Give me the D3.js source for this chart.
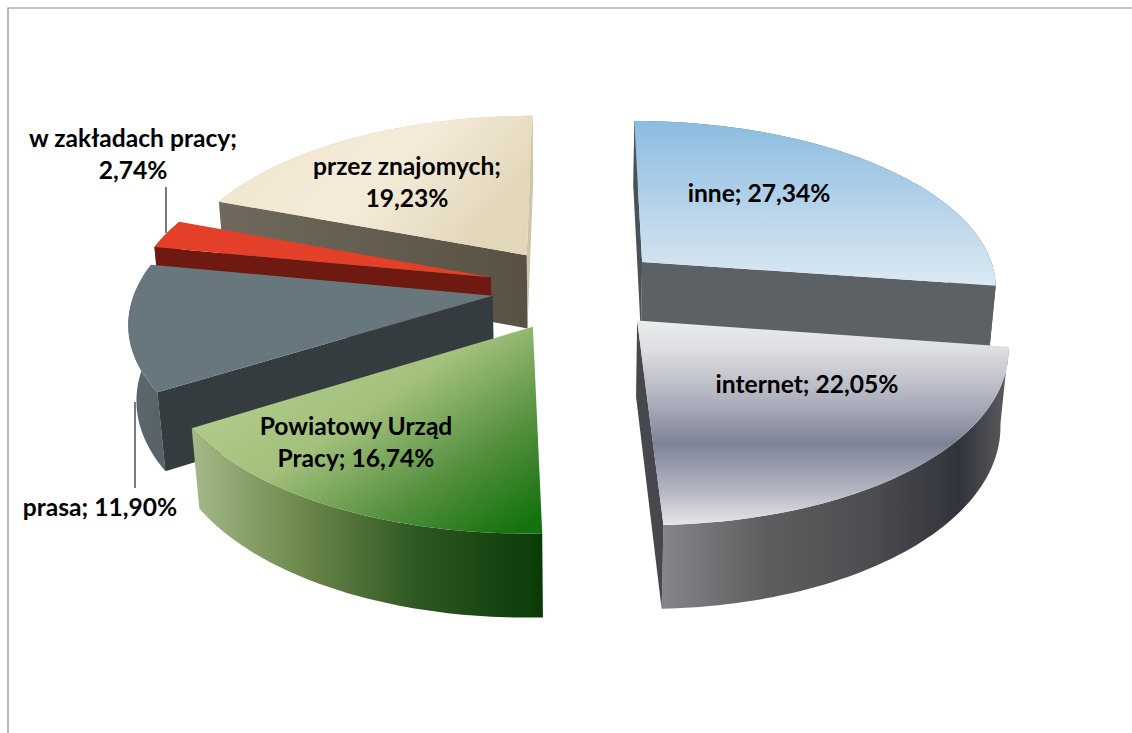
<!DOCTYPE html>
<html>
<head>
<meta charset="utf-8">
<script src="https://cdn.jsdelivr.net/npm/d3@7"></script>
<style>
  html, body { margin: 0; padding: 0; background: #fff; }
  svg { display: block; }
  text { font-family: Lato, sans-serif; font-weight: 700; font-size: 24.6px; fill: #000; text-anchor: middle; }
</style>
</head>
<body>
<div id="chart"></div>
<script>
// values in clockwise order, starting at 12 o'clock
const categories = ['inne', 'internet', 'Powiatowy Urząd Pracy', 'prasa', 'w zakładach pracy', 'przez znajomych'];
const shares = [27.34, 22.05, 16.74, 11.90, 2.74, 19.23];
const labelLines = [
  ['inne; 27,34%'],
  ['internet; 22,05%'],
  ['Powiatowy Urząd', 'Pracy; 16,74%'],
  ['prasa; 11,90%'],
  ['w zakładach pracy;', '2,74%'],
  ['przez znajomych;', '19,23%']
];

const width = 1132;
const height = 733;

// camera fitted to the picture
const explode = [0.25, 0.25, 0.25, 0.236, 0.25, 0.25];
const persp = 0.137;
const zPersp = 0.018;
const thickness = 76;
const xScale = d3.scaleLinear().domain([-1, 1]).range([576 - 357, 576 + 357]);
const yScale = d3.scaleLinear().domain([-1, 1]).range([288.6 + 167, 288.6 - 167]);

const project = (u, v, z) => {
  const s = 1 / (1 + persp * v + zPersp * z);
  return [
    xScale(0) + (xScale(u) - xScale(0)) * s,
    yScale(0) + ((yScale(v) - yScale(0)) + thickness * z) * s
  ];
};

// null wall = faces away from the camera, not drawn
const sliceStyles = [
  { top: 'url(#topInne)', end: '#5c6165', start: '#4a5258', rim: '#5c6165' },
  { top: 'url(#topInternet)', end: '#46484e', start: null, rim: 'url(#rimInternet)' },
  { top: 'url(#topUrzad)', end: null, start: null, rim: 'url(#rimUrzad)' },
  { top: '#67777d', end: null, start: '#343c3f', rim: 'url(#rimPrasa)' },
  { top: '#e43f28', end: null, start: '#6e1a10', rim: '#6e1a10' },
  { top: 'url(#topZnajomi)', end: '#cfc5ab', start: 'url(#wallZnajomi)', rim: '#cfc5ab' }
];

const labelPos = [
  { x: 759, y: 202 },
  { x: 807, y: 393 },
  { x: 356, y: 435 },
  { x: 100, y: 516 },
  { x: 133, y: 147 },
  { x: 407, y: 175 }
];
const lineStep = 32;

const svg = d3.select('#chart')
  .append('svg')
  .attr('width', width)
  .attr('height', height);

const defs = svg.append('defs');
const gradient = (id, x2, y2, stops) => {
  const g = defs.append('linearGradient')
    .attr('id', id)
    .attr('x1', 0).attr('y1', 0)
    .attr('x2', x2).attr('y2', y2);
  stops.forEach(s => g.append('stop').attr('offset', s[0]).attr('stop-color', s[1]));
};

gradient('topInne', 0, 1, [[0, '#8bbce0'], [1, '#dce9f3']]);
gradient('topInternet', 0, 1, [[0, '#ebeced'], [0.15, '#dcdde1'], [0.38, '#b0b2be'], [0.6, '#7f8398'], [0.83, '#b4b5c2'], [1, '#e6e7e8']]);
gradient('rimInternet', 1, 0, [[0, '#85868a'], [0.3, '#5e5e60'], [0.6, '#4c4d50'], [0.86, '#32343c'], [1, '#5c5d60']]);
gradient('topUrzad', 1, 0.9, [[0, '#bcd498'], [0.48, '#a3c07c'], [0.76, '#55903f'], [1, '#15730f']]);
gradient('rimUrzad', 1, 0, [[0, '#a4b98a'], [0.3, '#6f8a4d'], [0.65, '#2c5621'], [1, '#0a3b07']]);
gradient('rimPrasa', 1, 0, [[0, '#5c686d'], [1, '#566267']]);
gradient('topZnajomi', 1, 0.4, [[0, '#f0e4cb'], [0.6, '#f4ebda'], [1, '#e3d7ba']]);
gradient('wallZnajomi', 1, 0, [[0, '#6f6a5d'], [1, '#595143']]);

// frame
svg.append('path')
  .attr('d', d3.line()([[8, height], [8, 8], [width, 8]]))
  .attr('fill', 'none')
  .attr('stroke', '#8c8c8c')
  .attr('stroke-width', 1.2);

const pie = d3.pie().sort(null).value(d => d);
const arcs = pie(shares);
const line = d3.line();

// one slice in camera space: apex and sampled rim
const buildSlice = (d, e) => {
  const mid = (d.startAngle + d.endAngle) / 2;
  const ou = e * Math.sin(mid);
  const ov = e * Math.cos(mid);
  const angles = d3.range(0, 61).map(i => d.startAngle + (d.endAngle - d.startAngle) * i / 60);
  return {
    apex: z => project(ou, ov, z),
    rim: z => angles.map(a => project(ou + Math.sin(a), ov + Math.cos(a), z))
  };
};

// back to front
const drawOrder = [5, 0, 4, 3, 2, 1];

drawOrder.forEach(i => {
  const slice = buildSlice(arcs[i], explode[i]);
  const style = sliceStyles[i];
  const g = svg.append('g').attr('class', 'slice').attr('data-name', categories[i]);
  const topRim = slice.rim(0);
  const bottomRim = slice.rim(1);
  const last = topRim.length - 1;

  // outer rim, end wall, start wall, top
  g.append('path')
    .attr('d', line(topRim.concat(bottomRim.slice().reverse())) + 'Z')
    .attr('fill', style.rim);
  if (style.end) {
    g.append('path')
      .attr('d', line([slice.apex(0), topRim[last], bottomRim[last], slice.apex(1)]) + 'Z')
      .attr('fill', style.end);
  }
  if (style.start) {
    g.append('path')
      .attr('d', line([slice.apex(0), topRim[0], bottomRim[0], slice.apex(1)]) + 'Z')
      .attr('fill', style.start);
  }
  g.append('path')
    .attr('d', line([slice.apex(0)].concat(topRim)) + 'Z')
    .attr('fill', style.top);
});

// leader lines
const leaders = [
  [[166, 187], [166, 233]],
  [[135, 402], [135, 488]]
];
leaders.forEach(l => {
  svg.append('path')
    .attr('d', line(l))
    .attr('fill', 'none')
    .attr('stroke', '#222')
    .attr('stroke-width', 1.2);
});

labelLines.forEach((lines, i) => {
  const t = svg.append('text')
    .attr('x', labelPos[i].x)
    .attr('y', labelPos[i].y);
  lines.forEach((l, j) => {
    t.append('tspan')
      .attr('x', labelPos[i].x)
      .attr('dy', j === 0 ? 0 : lineStep)
      .text(l);
  });
});
</script>
</body>
</html>
